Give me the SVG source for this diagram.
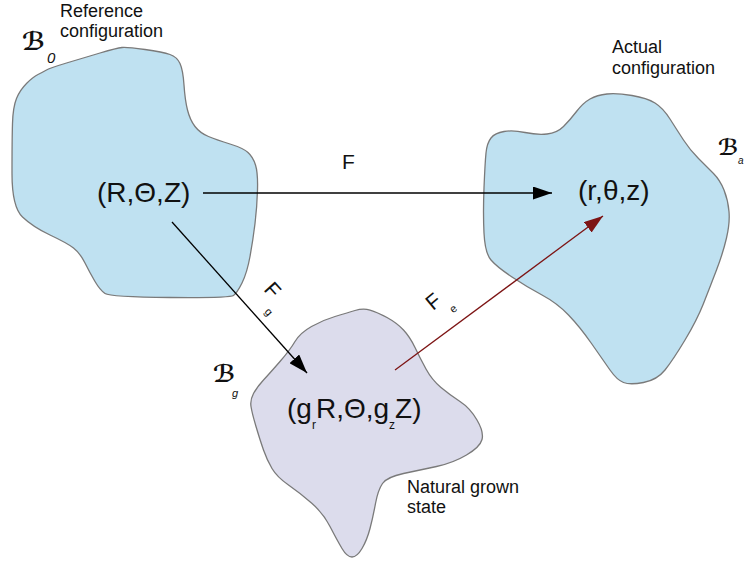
<svg xmlns="http://www.w3.org/2000/svg" width="747" height="563" viewBox="0 0 747 563">
<style>
.blob{stroke:#7a7a7a;stroke-width:1.3}
.blue{fill:#bfe1f1}
.lav{fill:#dcdcec}
.t{font-family:"Liberation Sans",Arial,sans-serif;fill:#111}
.coord{font-size:28px}
.cap{font-size:18px}
.sym{font-family:"DejaVu Sans","DejaVu Serif",serif;fill:#111;font-weight:bold}
.conn{fill:none;stroke-width:1.3}
</style>
<defs>
<marker id="ah" markerUnits="userSpaceOnUse" markerWidth="20" markerHeight="13" refX="19" refY="6.5" orient="auto"><path d="M0,0 L19,6.5 L0,13 z" fill="#000"/></marker>
<marker id="ahr" markerUnits="userSpaceOnUse" markerWidth="20" markerHeight="13" refX="19" refY="6.5" orient="auto"><path d="M0,0 L19,6.5 L0,13 z" fill="#7d1414"/></marker>
</defs>
<g id="reference">
<path class="blob blue" d="M38,74.5 Q43,72 46.5,70 Q50,68 66.5,63 Q83,58 100,53 Q117,48 122,47.5 Q127,47 145,49.5 Q163,52 170,54.5 Q177,57 180,63.5 Q183,70 184,85 Q185,100 187.5,110 Q190,120 195,126.5 Q200,133 208.5,136.5 Q217,140 230,144 Q243,148 248,152.5 Q253,157 255.5,165 Q258,173 257.5,190 Q257,207 255,223.5 Q253,240 250,256.5 Q247,273 242,283 Q237,293 233.5,295.5 Q230,298 170,297.5 Q110,297 105,293.5 Q100,290 95,281.5 Q90,273 85,263 Q80,253 73.5,248 Q67,243 50,235 Q33,227 22.5,217 Q12,207 12,173.5 Q12,140 12.5,123.5 Q13,107 16.5,98.5 Q20,90 26.5,83.5 Q33,77 38,74.5 Z"/>
<text class="t coord" x="97" y="202">(R,Θ,Z)</text>
<text class="t cap" x="60" y="17">Reference</text>
<text class="t cap" x="60" y="37">configuration</text>
<text class="sym" x="22" y="50" font-size="25">ℬ</text>
<text class="t" x="47" y="63" font-size="15" font-style="italic">0</text>
</g>
<g id="actual">
<path class="blob blue" d="M491,138 Q495,133 504,131.5 Q513,130 525,132.5 Q537,135 547,134 Q557,133 563.5,126.5 Q570,120 576.5,111.5 Q583,103 590,99 Q597,95 607,94 Q617,93 632,95.5 Q647,98 655,103 Q663,108 670,119 Q677,130 683.5,140 Q690,150 698.5,158.5 Q707,167 713.5,173.5 Q720,180 724,190 Q728,200 729,211.5 Q730,223 726.5,238 Q723,253 716.5,270 Q710,287 703.5,303.5 Q697,320 685,340 Q673,360 665,370 Q657,380 643.5,382.5 Q630,385 623.5,382.5 Q617,380 610,370 Q603,360 591.5,343.5 Q580,327 568.5,315 Q557,303 542,295 Q527,287 512,277 Q497,267 491,260 Q485,253 484,233 Q483,213 484,188 Q485,163 486,153 Q487,143 491,138 Z"/>
<text class="t coord" x="578" y="200">(r,θ,z)</text>
<text class="t cap" x="612" y="53">Actual</text>
<text class="t cap" x="612" y="74">configuration</text>
<text class="sym" x="718" y="155" font-size="22">ℬ</text>
<text class="t" x="738" y="164" font-size="10" font-style="italic">a</text>
</g>
<g id="natural">
<path class="blob lav" d="M280,361.5 Q290,350 295,341.5 Q300,333 311.5,326.5 Q323,320 335,316.5 Q347,313 355,310.5 Q363,308 370,310 Q377,312 387,317.5 Q397,323 403.5,330 Q410,337 415,347.5 Q420,358 426,369 Q432,380 441,387.5 Q450,395 460,401.5 Q470,408 477,420 Q484,432 482,439.5 Q480,447 466.5,455 Q453,463 436.5,466.5 Q420,470 403.5,473.5 Q387,477 382.5,483.5 Q378,490 375.5,503.5 Q373,517 370,528.5 Q367,540 362,548.5 Q357,557 352,557 Q347,557 342,548.5 Q337,540 330,526.5 Q323,513 311.5,503 Q300,493 288.5,485 Q277,477 272,468.5 Q267,460 263.5,450 Q260,440 256,426.5 Q252,413 251,406.5 Q250,400 253.5,393.5 Q257,387 263.5,380 Q270,373 280,361.5 Z"/>
<text class="t coord" x="287" y="418">(g<tspan font-size="12" dy="11">r</tspan><tspan dy="-11">R,Θ,g</tspan><tspan font-size="12" dy="11">z</tspan><tspan dy="-11">Z)</tspan></text>
<text class="t cap" x="407" y="493">Natural grown</text>
<text class="t cap" x="407" y="513">state</text>
<text class="sym" x="213" y="382" font-size="24">ℬ</text>
<text class="t" x="232" y="397" font-size="11" font-style="italic">g</text>
</g>
<g id="connectors">
<line class="conn" x1="203" y1="193" x2="552" y2="193" stroke="#000" marker-end="url(#ah)"/>
<line class="conn" x1="172" y1="222" x2="307" y2="373" stroke="#000" marker-end="url(#ah)"/>
<line class="conn" x1="395" y1="370" x2="603" y2="216" stroke="#7d1414" marker-end="url(#ahr)"/>
<text class="t" x="342" y="169" font-size="21">F</text>
<text class="t" x="263" y="290" font-size="21" transform="rotate(48 263 290)">F</text>
<text class="t" x="280" y="304" font-size="11" transform="rotate(48 263 290)">g</text>
<text class="t" x="433" y="311" font-size="21" transform="rotate(-40 433 311)">F</text>
<text class="t" x="447" y="326" font-size="11" transform="rotate(-40 433 311)">e</text>
</g>
</svg>
